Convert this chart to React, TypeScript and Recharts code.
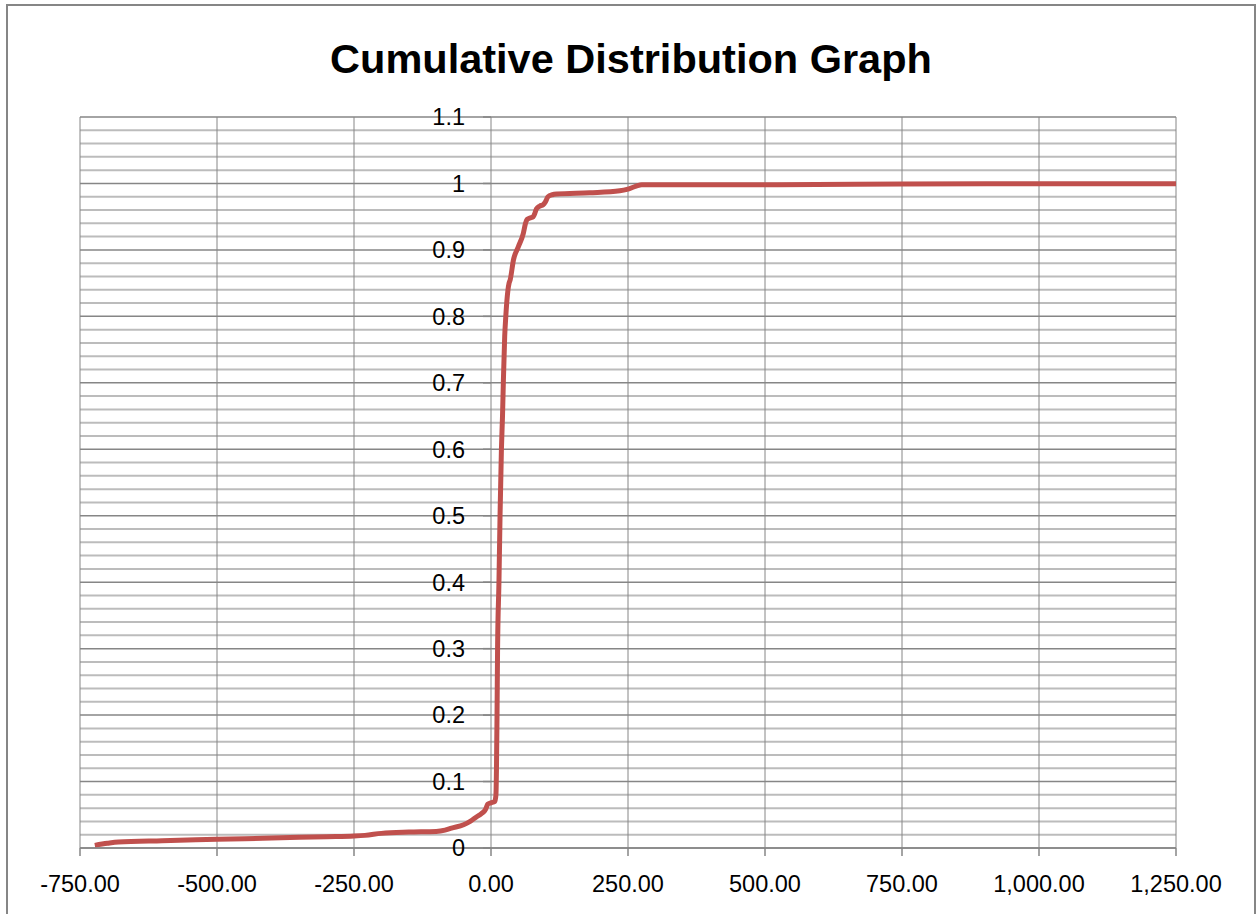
import React from 'react';
import {
  LineChart,
  Line,
  XAxis,
  YAxis,
  CartesianGrid,
  ReferenceLine,
  ReferenceDot,
} from 'recharts';

// Sample values (x) and cumulative probability at each of them
const xValues = [
  -723, -700, -680, -600, -500, -400, -300, -250, -230, -200,
  -150, -100, -84, -72, -50, -38, -26, -17, -10, -8,
  -6, 0, 7, 9, 10, 11, 12, 14.5, 16.5, 19,
  21, 22.5, 25, 27, 31, 33, 35, 41, 50, 59,
  63, 66, 71, 77, 80, 83, 89, 95, 99, 104,
  112, 120, 180, 235, 248, 265, 275, 363, 500, 750,
  1000, 1250,
];
const cdfValues = [
  0.004, 0.007, 0.009, 0.011, 0.013, 0.015, 0.017, 0.018, 0.019, 0.022,
  0.024, 0.025, 0.027, 0.03, 0.035, 0.04, 0.047, 0.052, 0.058, 0.062,
  0.066, 0.068, 0.07, 0.08, 0.12, 0.2, 0.3, 0.4, 0.5, 0.6,
  0.65, 0.7, 0.77, 0.8, 0.84, 0.85, 0.855, 0.885, 0.905, 0.925,
  0.94, 0.946, 0.948, 0.95, 0.955, 0.962, 0.966, 0.968, 0.972, 0.98,
  0.983, 0.984, 0.986, 0.989, 0.991, 0.996, 0.998, 0.998, 0.998, 0.999,
  0.9995, 0.9995,
];

const xTicks = [-750, -500, -250, 0, 250, 500, 750, 1000, 1250];
const yTicks = [0, 0.1, 0.2, 0.3, 0.4, 0.5, 0.6, 0.7, 0.8, 0.9, 1, 1.1];

const data = xValues.map((x, i) => ({ x, p: cdfValues[i] }));

// every horizontal grid line: majors plus four minors between each pair
const yGrid: number[] = [];
yTicks.forEach((t, i) => {
  yGrid.push(t);
  if (i < yTicks.length - 1) {
    for (let k = 1; k < 5; k++) yGrid.push(Math.round((t + k * 0.02) * 100) / 100);
  }
});

const GRID = '#868686';
const MINOR = '#bcbcbc';
const FONT = '"Liberation Sans", Arial, sans-serif';

const fmtX = (v: number) =>
  v.toLocaleString('en-US', { minimumFractionDigits: 2, maximumFractionDigits: 2 });
const fmtY = (v: number) => String(Math.round(v * 10) / 10);

// majors are every fifth line, drawn darker
const HorizontalLine = (props: any) => {
  const { x1, x2, y1, y2, index } = props;
  const major = index % 5 === 0;
  return (
    <line
      x1={x1}
      x2={x2}
      y1={y1}
      y2={y2}
      stroke={major ? GRID : MINOR}
      strokeWidth={major ? 1.5 : 2}
      fill="none"
    />
  );
};

export default function App() {
  return (
    <div
      style={{
        position: 'absolute',
        left: 0,
        top: 0,
        width: 1260,
        height: 914,
        overflow: 'hidden',
        background: '#fff',
        fontFamily: FONT,
      }}
    >
      <div
        style={{
          position: 'absolute',
          left: 6,
          top: 4,
          width: 1250,
          height: 960,
          border: `2px solid ${GRID}`,
          boxSizing: 'border-box',
        }}
      />
      <div
        style={{
          position: 'absolute',
          left: 0,
          top: 38,
          width: 1262,
          textAlign: 'center',
          fontSize: 41.5,
          lineHeight: '42px',
          fontWeight: 'bold',
          color: '#000',
        }}
      >
        Cumulative Distribution Graph
      </div>
      <div style={{ position: 'absolute', left: 0, top: 0 }}>
        <LineChart
          width={1260}
          height={914}
          data={data}
          margin={{ top: 117, right: 84, left: 80, bottom: 26 }}
        >
          <CartesianGrid
            horizontalValues={yGrid}
            verticalValues={xTicks}
            horizontal={HorizontalLine}
            vertical={{ stroke: GRID, strokeWidth: 1.5 }}
            stroke={GRID}
          />
          <XAxis
            type="number"
            dataKey="x"
            domain={[-750, 1250]}
            ticks={xTicks}
            allowDataOverflow
            height={40}
            tickFormatter={fmtX}
            axisLine={{ stroke: GRID, strokeWidth: 1.5 }}
            tickLine={{ stroke: GRID, strokeWidth: 1.5 }}
            tickSize={8}
            tickMargin={19}
            tick={{ fill: '#000', fontSize: 23.5, fontFamily: FONT }}
            interval={0}
          />
          <YAxis
            hide
            type="number"
            domain={[0, 1.1]}
            ticks={yTicks}
            interval={0}
            allowDataOverflow
          />
          {/* y axis sits on x = 0, with its marks pointing left */}
          {yTicks.map((v) => (
            <ReferenceLine
              key={`t${v}`}
              segment={[
                { x: -14.6, y: v },
                { x: 0, y: v },
              ]}
              stroke={GRID}
              strokeWidth={1.5}
            />
          ))}
          {yTicks.map((v) => (
            <ReferenceDot
              key={`l${v}`}
              x={0}
              y={v}
              r={1}
              fillOpacity={0}
              stroke="none"
              label={{
                value: fmtY(v),
                position: 'left',
                offset: 25,
                fill: '#000',
                fontSize: 23.5,
                fontFamily: FONT,
              }}
            />
          ))}
          <Line
            type="monotone"
            dataKey="p"
            stroke="#c0504d"
            strokeWidth={5}
            dot={false}
            activeDot={false}
            isAnimationActive={false}
          />
        </LineChart>
      </div>
    </div>
  );
}
